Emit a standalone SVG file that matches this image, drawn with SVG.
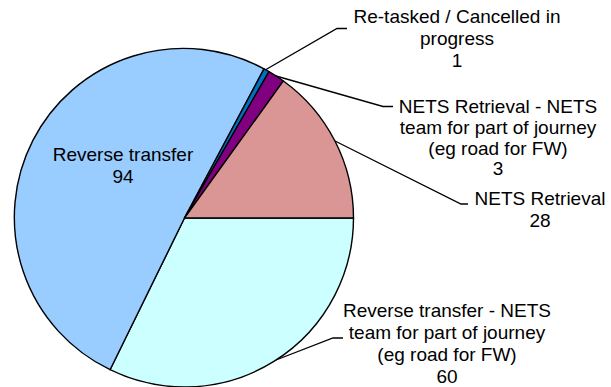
<svg xmlns="http://www.w3.org/2000/svg" width="611" height="387" viewBox="0 0 611 387">
<style>
.s{stroke:#000;stroke-width:1.4;stroke-linejoin:round}
.t{font-family:"Liberation Sans",Arial,sans-serif;font-size:19px;fill:#000;text-anchor:middle}
.l{fill:none;stroke:#000;stroke-width:1.3}
</style>
<rect width="611" height="387" fill="#fff"/>
<g id="slice-reverse-transfer-nets"><path class="s" fill="#CCFFFF" d="M184.5,218 L353.5,218 A169,169 0 0,1 110.07,369.7 Z"/></g>
<g id="slice-reverse-transfer"><path class="s" fill="#99CCFF" d="M184.5,218 L110.07,369.7 A169,169 0 1,1 264.0,68.9 Z"/></g>
<g id="slice-retasked"><path class="s" fill="#0070C0" d="M184.5,218 L264.0,68.9 A169,169 0 0,1 269.0,71.6 Z"/></g>
<g id="slice-nets-retrieval-part"><path class="s" fill="#800080" d="M184.5,218 L269.0,71.6 A169,169 0 0,1 283.4,80.96 Z"/></g>
<g id="slice-nets-retrieval"><path class="s" fill="#D99694" d="M184.5,218 L283.4,80.96 A169,169 0 0,1 353.5,218 Z"/></g>
<g id="connectors">
<polyline class="l" points="266,69.5 337,28.5 347,28.5"/>
<polyline class="l" points="276,76 383,106.5 393,106.5"/>
<polyline class="l" points="335,141 461,204 468,204"/>
<polyline class="l" points="276,360 333,338 343,338"/>
</g>
<g id="label-retasked"><text class="t" x="457" y="23">Re-tasked / Cancelled in</text><text class="t" x="457" y="45">progress</text><text class="t" x="457" y="67">1</text></g>
<g id="label-nets-retrieval-part"><text class="t" x="498" y="113">NETS Retrieval - NETS</text><text class="t" x="498" y="134">team for part of journey</text><text class="t" x="498" y="155">(eg road for FW)</text><text class="t" x="498" y="175">3</text></g>
<g id="label-nets-retrieval"><text class="t" x="540" y="205">NETS Retrieval</text><text class="t" x="540" y="227">28</text></g>
<g id="label-reverse-transfer-nets"><text class="t" x="447" y="317">Reverse transfer - NETS</text><text class="t" x="447" y="339">team for part of journey</text><text class="t" x="447" y="361">(eg road for FW)</text><text class="t" x="447" y="383">60</text></g>
<g id="label-reverse-transfer"><text class="t" x="123" y="161">Reverse transfer</text><text class="t" x="123" y="183">94</text></g>
</svg>
